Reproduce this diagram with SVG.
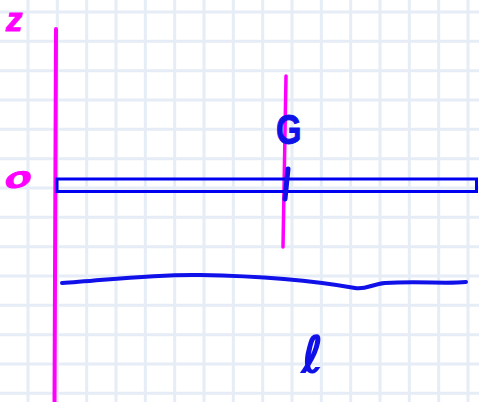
<svg xmlns="http://www.w3.org/2000/svg" width="479" height="402" viewBox="0 0 479 402">
<style>
.grid{stroke:#e6edf6;stroke-width:3;fill:none}
.pink{stroke:#ff00ff;fill:none;stroke-linecap:round}
.blue{stroke:#1010e8;fill:none;stroke-linecap:round;stroke-linejoin:round}
.tp{fill:#ff00ff;stroke:#ff00ff;stroke-width:1;font-family:"Liberation Sans",Arial,sans-serif;font-weight:bold;font-style:italic}
.tb{fill:#1010e8;stroke:#1010e8;stroke-width:1;font-family:"Liberation Sans",Arial,sans-serif;font-weight:bold}
</style>
<rect width="479" height="402" fill="#ffffff"/>
<g id="grid">
<path class="grid" d="M28,0V402M57.33,0V402M86.67,0V402M116,0V402M145.33,0V402M174.67,0V402M204,0V402M233.33,0V402M262.67,0V402M292,0V402M321.33,0V402M350.67,0V402M380,0V402M409.33,0V402M438.67,0V402M468,0V402M0,12H479M0,41.33H479M0,70.67H479M0,100H479M0,129.33H479M0,158.67H479M0,188H479M0,217.33H479M0,246.67H479M0,276H479M0,305.33H479M0,334.67H479M0,364H479M0,393.33H479"/>
</g>
<g id="connectors">
<path id="z-axis" class="pink" stroke-width="4" d="M56,29 L54.5,404"/>
<path id="g-axis" class="pink" stroke-width="3.5" d="M286,76 L283,247"/>
</g>
<g id="bar">
<rect x="57" y="179" width="419.5" height="12.5" fill="none" stroke="#0000f0" stroke-width="3"/>
<path class="blue" stroke-width="5" d="M288,169 L285,199"/>
</g>
<g id="ground">
<path class="blue" stroke-width="4" d="M62,283 C100,281 150,274 200,275 C260,276 310,280 355,288 C366,290 372,284 385,283 C420,281 445,284 466,282"/>
</g>
<g id="label-z"><text class="tp" font-size="33" x="6" y="31">z</text></g>
<g id="label-o"><text class="tp" font-size="28" transform="translate(20,187) rotate(-12) scale(1.6,1)" text-anchor="middle">o</text></g>
<g id="label-G"><text class="tb" font-size="42" transform="translate(276,144) scale(0.78,1)">G</text></g>
<g id="label-l"><text fill="#1010e8" stroke="#1010e8" stroke-width="1.5" font-family="DejaVu Sans,sans-serif" font-size="50" x="302" y="372">ℓ</text></g>
</svg>
